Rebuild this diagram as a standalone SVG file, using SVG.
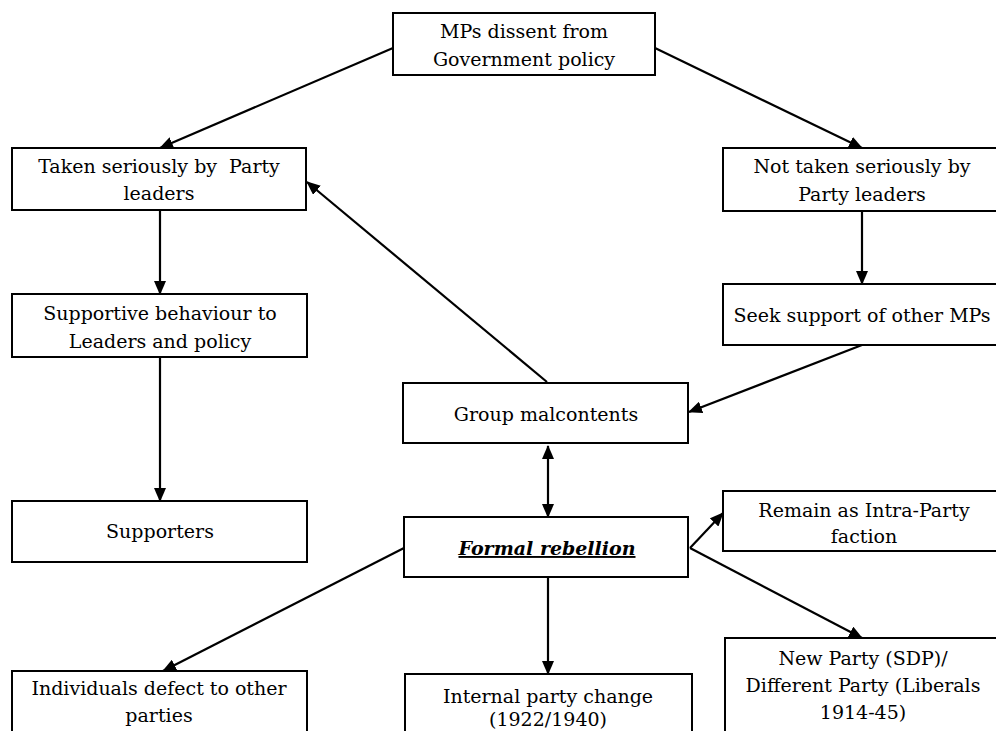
<svg xmlns="http://www.w3.org/2000/svg" width="996" height="731" viewBox="0 0 996 731">
<defs>
<marker id="ah" markerUnits="userSpaceOnUse" markerWidth="14" markerHeight="12" refX="13" refY="6" orient="auto-start-reverse">
<path d="M0,0 L14,6 L0,12 Z" fill="#000"/>
</marker>
</defs>
<style>
rect{fill:#fff;stroke:#000;stroke-width:2}
text{font-family:'DejaVu Serif','Liberation Serif',serif;font-size:19px;fill:#000;text-anchor:middle}
.e line{stroke:#000;stroke-width:2.2;marker-end:url(#ah)}
.fr{font-weight:bold;font-style:italic;text-decoration:underline}
</style>
<rect x="0" y="0" width="996" height="731" style="stroke:none"/>
<g class="e" id="connectors">
<line x1="393" y1="48" x2="160" y2="148"/>
<line x1="655" y1="48" x2="862" y2="148"/>
<line x1="160" y1="210" x2="160" y2="294"/>
<line x1="160" y1="357" x2="160" y2="501"/>
<line x1="862" y1="211" x2="862" y2="284"/>
<line x1="862" y1="345" x2="689" y2="412"/>
<line x1="547" y1="382" x2="307" y2="182"/>
<line x1="548" y1="446" x2="548" y2="517" style="marker-start:url(#ah)"/>
<line x1="690" y1="548" x2="723" y2="513"/>
<line x1="690" y1="548" x2="862" y2="638"/>
<line x1="404" y1="548" x2="163" y2="671"/>
<line x1="548" y1="577" x2="548" y2="674"/>
</g>
<g id="n1"><rect x="393" y="13" width="262" height="62"/><text x="524" y="38">MPs dissent from</text><text x="524" y="66">Government policy</text></g>
<g id="n2"><rect x="12" y="148" width="294" height="62"/><text x="159" y="173" xml:space="preserve">Taken seriously by  Party</text><text x="159" y="200">leaders</text></g>
<g id="n3"><rect x="723" y="148" width="280" height="63"/><text x="862" y="173">Not taken seriously by</text><text x="862" y="201">Party leaders</text></g>
<g id="n4"><rect x="12" y="294" width="295" height="63"/><text x="160" y="320">Supportive behaviour to</text><text x="160" y="348">Leaders and policy</text></g>
<g id="n5"><rect x="723" y="284" width="280" height="61"/><text x="862" y="322">Seek support of other MPs</text></g>
<g id="n6"><rect x="403" y="383" width="285" height="60"/><text x="546" y="421">Group malcontents</text></g>
<g id="n7"><rect x="12" y="501" width="295" height="61"/><text x="160" y="538">Supporters</text></g>
<g id="n8"><rect x="404" y="517" width="284" height="60"/><text class="fr" x="547" y="555">Formal rebellion</text></g>
<g id="n9"><rect x="723" y="491" width="280" height="60"/><text x="864" y="517">Remain as Intra-Party</text><text x="864" y="543">faction</text></g>
<g id="n10"><rect x="12" y="671" width="295" height="80"/><text x="159" y="695">Individuals defect to other</text><text x="159" y="722">parties</text></g>
<g id="n11"><rect x="405" y="674" width="287" height="80"/><text x="548" y="703">Internal party change</text><text x="548" y="726">(1922/1940)</text></g>
<g id="n12"><rect x="725" y="638" width="280" height="110"/><text x="863" y="665">New Party (SDP)/</text><text x="863" y="692">Different Party (Liberals</text><text x="863" y="719">1914-45)</text></g>
</svg>
